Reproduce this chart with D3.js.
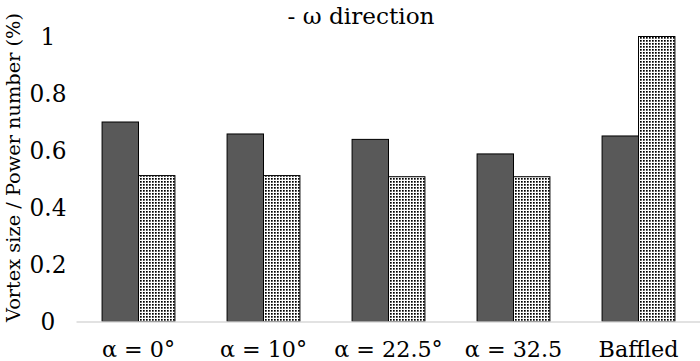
<!DOCTYPE html>
<html>
<head>
<meta charset="utf-8">
<script src="https://cdn.jsdelivr.net/npm/d3@7"></script>
<style>
  html, body { margin: 0; padding: 0; background: #fff; }
  svg { display: block; }
</style>
</head>
<body>
<svg id="chart" width="700" height="361"></svg>
<script>
const categories = ["α = 0°", "α = 10°", "α = 22.5°", "α = 32.5", "Baffled"];
const vortexSize = [0.70, 0.658, 0.639, 0.588, 0.651];
const powerNumber = [0.512, 0.512, 0.508, 0.508, 1.0];
const yTicks = [0, 0.2, 0.4, 0.6, 0.8, 1];
const titleText = "- ω direction";
const yTitle = "Vortex size / Power number (%)";

const FONT = "DejaVu Serif";
const svg = d3.select("#chart");
const plot = { left: 76, right: 701, top: 36.5, bottom: 321.5 };

// choose font size so that a text element has a given width
function fitSize(text, width) {
  const t = svg.append("text").attr("font-family", FONT).attr("font-size", 100).text(text);
  const w = t.node().getComputedTextLength();
  t.remove();
  return 100 * width / w;
}

const x = d3.scaleBand().domain(categories).range([plot.left, plot.right]).paddingInner(0).paddingOuter(0);
const inner = d3.scaleBand().domain(["v", "p"]).range([0, x.bandwidth()]).paddingInner(0).paddingOuter(0.716);
const y = d3.scaleLinear().domain([0, 1]).range([plot.bottom, plot.top]);

const defs = svg.append("defs");
const pat = defs.append("pattern").attr("id", "dots").attr("patternUnits", "userSpaceOnUse")
  .attr("width", 3).attr("height", 3);
pat.append("rect").attr("width", 3).attr("height", 3).attr("fill", "#fff");
pat.append("rect").attr("x", 1).attr("y", 1).attr("width", 1.7).attr("height", 1.7).attr("fill", "#000");

// title
svg.append("text").attr("x", 361).attr("y", 24).attr("text-anchor", "middle")
  .attr("font-family", FONT).attr("font-size", fitSize(titleText, 147)).text(titleText);

// y axis title
svg.append("text").attr("transform", `translate(20,${(13 + 322) / 2}) rotate(-90)`)
  .attr("text-anchor", "middle").attr("font-family", FONT)
  .attr("font-size", fitSize(yTitle, 309)).text(yTitle);

// y tick labels
const yAxis = d3.axisLeft(y).tickValues(yTicks).tickSize(0).tickPadding(0)
  .tickFormat(d => d3.format("~g")(d));
const yg = svg.append("g").attr("transform", "translate(48,0)").call(yAxis);
yg.attr("font-family", FONT).attr("font-size", fitSize("0.8", 37));
yg.select(".domain").remove();
yg.selectAll("text").attr("text-anchor", "middle").attr("dy", "0.36em").attr("fill", "#000");

const groups = svg.append("g").selectAll("g").data(categories).join("g")
  .attr("transform", d => `translate(${x(d)},0)`);

groups.append("rect")
  .attr("x", inner("v")).attr("width", inner.bandwidth())
  .attr("y", (d, i) => y(vortexSize[i])).attr("height", (d, i) => y(0) - y(vortexSize[i]))
  .attr("fill", "#595959").attr("stroke", "#000").attr("stroke-width", 1);

groups.append("rect")
  .attr("x", inner("p")).attr("width", inner.bandwidth())
  .attr("y", (d, i) => y(powerNumber[i])).attr("height", (d, i) => y(0) - y(powerNumber[i]))
  .attr("fill", "url(#dots)").attr("stroke", "#000").attr("stroke-width", 1);

// x axis
const xAxis = d3.axisBottom(x).tickSize(0).tickPadding(0);
const xg = svg.append("g").attr("transform", `translate(0,${plot.bottom})`).call(xAxis);
xg.attr("font-family", FONT).attr("font-size", fitSize("Baffled", 80));
xg.select(".domain").attr("stroke", "#d9d9d9").attr("stroke-width", 1.5);
xg.selectAll("text").attr("y", 35.5).attr("dy", 0).attr("fill", "#000");
</script>
</body>
</html>
